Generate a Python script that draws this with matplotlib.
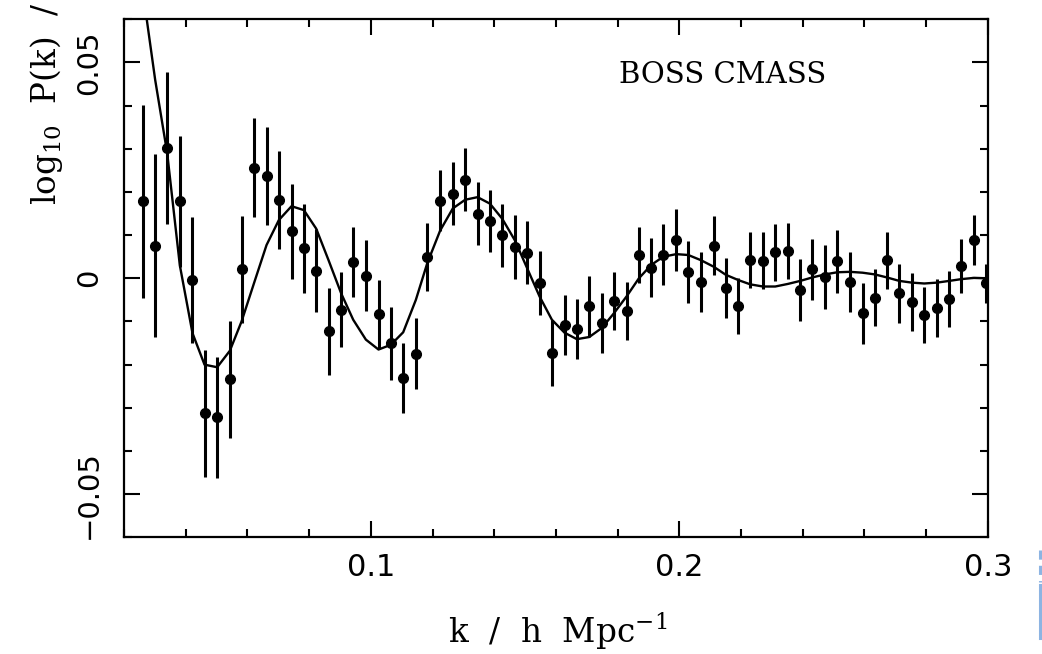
import numpy as np
import matplotlib
matplotlib.use("Agg")
import matplotlib.pyplot as plt
from matplotlib.ticker import MultipleLocator
from matplotlib.lines import Line2D

# BOSS CMASS power spectrum ratio
k_vals = [0.0262, 0.0301, 0.0340, 0.0381, 0.0422, 0.0461, 0.0502, 0.0543, 0.0581, 0.0622,
          0.0662, 0.0702, 0.0743, 0.0783, 0.0823, 0.0863, 0.0904, 0.0943, 0.0984, 0.1025,
          0.1065, 0.1105, 0.1146, 0.1183, 0.1225, 0.1266, 0.1306, 0.1346, 0.1386, 0.1426,
          0.1467, 0.1507, 0.1547, 0.1587, 0.1628, 0.1668, 0.1708, 0.1749, 0.1788, 0.1829,
          0.1869, 0.1909, 0.1948, 0.1990, 0.2029, 0.2070, 0.2111, 0.2151, 0.2191, 0.2230,
          0.2271, 0.2311, 0.2352, 0.2392, 0.2431, 0.2472, 0.2512, 0.2553, 0.2594, 0.2634,
          0.2673, 0.2713, 0.2754, 0.2794, 0.2835, 0.2875, 0.2913, 0.2955, 0.2995]

logpk = [0.0178, 0.0075, 0.0302, 0.0178, -0.0004, -0.0313, -0.0322, -0.0234, 0.0021, 0.0256,
         0.0237, 0.0182, 0.0109, 0.0070, 0.0018, -0.0123, -0.0073, 0.0038, 0.0006, -0.0083,
         -0.0151, -0.0231, -0.0175, 0.0050, 0.0180, 0.0196, 0.0228, 0.0150, 0.0132, 0.0100,
         0.0073, 0.0059, -0.0010, -0.0173, -0.0108, -0.0117, -0.0065, -0.0104, -0.0052, -0.0076,
         0.0054, 0.0025, 0.0055, 0.0088, 0.0014, -0.0008, 0.0076, -0.0022, -0.0065, 0.0042,
         0.0041, 0.0060, 0.0063, -0.0027, 0.0021, 0.0004, 0.0040, -0.0008, -0.0081, -0.0045,
         0.0042, -0.0035, -0.0055, -0.0085, -0.0069, -0.0048, 0.0029, 0.0088, -0.0012]

logpk_err = [0.0224, 0.0212, 0.0176, 0.0152, 0.0147, 0.0148, 0.0140, 0.0135, 0.0124, 0.0115,
             0.0113, 0.0113, 0.0110, 0.0103, 0.0096, 0.0101, 0.0087, 0.0081, 0.0082, 0.0080,
             0.0084, 0.0081, 0.0082, 0.0079, 0.0071, 0.0073, 0.0073, 0.0073, 0.0072, 0.0073,
             0.0074, 0.0073, 0.0074, 0.0077, 0.0069, 0.0069, 0.0071, 0.0069, 0.0067, 0.0067,
             0.0066, 0.0068, 0.0071, 0.0072, 0.0072, 0.0069, 0.0068, 0.0069, 0.0065, 0.0065,
             0.0066, 0.0066, 0.0065, 0.0072, 0.0071, 0.0074, 0.0073, 0.0070, 0.0071, 0.0066,
             0.0066, 0.0068, 0.0068, 0.0065, 0.0067, 0.0065, 0.0062, 0.0058, 0.0045]

# best-fit model evaluated at the same k
model = [0.0660, 0.0460, 0.0290, 0.0030, -0.0127, -0.0200, -0.0206, -0.0168, -0.0100, -0.0010,
         0.0077, 0.0135, 0.0167, 0.0158, 0.0115, 0.0042, -0.0035, -0.0096, -0.0142, -0.0165,
         -0.0154, -0.0125, -0.0050, 0.0035, 0.0111, 0.0162, 0.0182, 0.0188, 0.0173, 0.0138,
         0.0088, 0.0023, -0.0042, -0.0096, -0.0126, -0.0141, -0.0136, -0.0115, -0.0081, -0.0042,
         0.0000, 0.0031, 0.0050, 0.0056, 0.0054, 0.0042, 0.0027, 0.0008, -0.0004, -0.0014,
         -0.0019, -0.0019, -0.0013, -0.0006, 0.0002, 0.0009, 0.0014, 0.0015, 0.0013, 0.0009,
         0.0002, -0.0006, -0.0010, -0.0012, -0.0010, -0.0006, -0.0002, 0.0001, 0.0000]

x_ticks = [0.1, 0.2, 0.3]
x_ticklabels = ['0.1', '0.2', '0.3']
y_ticks = [-0.05, 0, 0.05]
y_ticklabels = ['\u22120.05', '0', '0.05']

plt.rcParams['mathtext.fontset'] = 'dejavuserif'

fig = plt.figure(figsize=(10.42, 6.54), dpi=100)
ax = fig.add_axes([0.119, 0.1784, 0.829, 0.7921])

ax.plot(k_vals, model, color='black', lw=1.7, zorder=2)
ax.errorbar(k_vals, logpk, yerr=logpk_err, fmt='o', color='black', ms=7,
            elinewidth=2.2, capsize=0, zorder=3)

ax.set_xlim(0.02, 0.3)
ax.set_ylim(-0.06, 0.06)

ax.set_xticks(x_ticks)
ax.set_xticklabels(x_ticklabels)
ax.set_yticks(y_ticks)
ax.set_yticklabels(y_ticklabels, rotation=90, va='center')
ax.xaxis.set_minor_locator(MultipleLocator(0.02))
ax.yaxis.set_minor_locator(MultipleLocator(0.01))
ax.tick_params(which='both', direction='in', top=True, right=True, width=1.5)
ax.tick_params(which='major', length=11.5)
ax.tick_params(axis='x', which='major', labelsize=22, pad=11)
ax.tick_params(axis='y', which='major', labelsize=21, pad=15)
ax.tick_params(which='minor', length=6)
for sp in ax.spines.values():
    sp.set_linewidth(1.6)

ax.text(0.573, 0.892, 'BOSS CMASS', transform=ax.transAxes, fontsize=21,
        family='DejaVu Serif', ha='left', va='center')

fig.text(0.535, 0.003, 'k  /  h  Mpc$^{-1}$', fontsize=23.5, family='DejaVu Serif',
         ha='center', va='bottom')
fig.text(0.045, 1 - 205 / 654, 'log$_{10}$  P(k)  /', fontsize=23.5,
         family='DejaVu Serif', rotation=90, ha='center', va='bottom')

# pale blue slide marker at the right edge
fig.add_artist(Line2D([0.9985, 0.9985], [1 - 550 / 654, 1 - 582 / 654], color='#8db4e2',
                      lw=2.2, ls=(0, (3, 2)), transform=fig.transFigure))
fig.add_artist(Line2D([0.9985, 0.9985], [1 - 585 / 654, 1 - 638 / 654], color='#8db4e2',
                      lw=2.2, transform=fig.transFigure))

fig.savefig('out.png', dpi=100)
